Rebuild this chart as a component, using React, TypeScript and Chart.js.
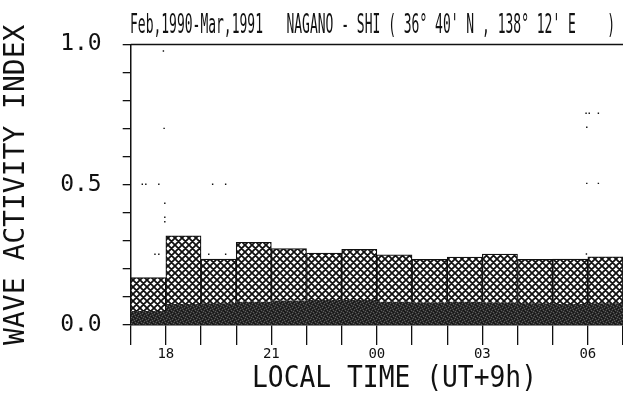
import React, { useEffect, useRef } from 'react';
import { Chart, registerables } from 'chart.js';

Chart.register(...registerables);

// ---- data ----
const hourStarts = [17, 18, 19, 20, 21, 22, 23, 24, 25, 26, 27, 28, 29, 30];
const totalIndex = [0.169, 0.318, 0.235, 0.295, 0.272, 0.256, 0.270, 0.250, 0.234, 0.242, 0.253, 0.234, 0.235, 0.243];
const darkIndex = [0.050, 0.075, 0.077, 0.083, 0.087, 0.089, 0.089, 0.083, 0.080, 0.083, 0.080, 0.077, 0.075, 0.077];

const dotX = [17.33, 17.43, 17.80, 19.33, 19.70, 17.93, 17.95, 17.97, 17.97, 17.97, 17.69, 17.80, 19.22, 19.70, 29.95, 30.04, 30.30, 29.97, 29.97, 30.30, 29.96];
const dotY = [0.502, 0.502, 0.502, 0.502, 0.502, 0.977, 0.701, 0.434, 0.384, 0.368, 0.252, 0.252, 0.252, 0.252, 0.755, 0.755, 0.755, 0.705, 0.505, 0.505, 0.253];

const xTickValues = [18, 21, 24, 27, 30];
const xTickLabels = ['18', '21', '00', '03', '06'];
const yTickValues = [0, 0.5, 1.0];
const yTickLabels = ['0.0', '0.5', '1.0'];

const titleText = "Feb,1990-Mar,1991   NAGANO - SHI ( 36° 40' N , 138° 12' E    )";
const xTitleText = 'LOCAL TIME (UT+9h)';
const yTitleText = 'WAVE ACTIVITY INDEX';

const FONT = '"DejaVu Sans Mono", monospace';
const INK = '#111';
const AREA_RIGHT = 623;

function makeHatch(): CanvasPattern | string {
  const P = 7;
  const c = document.createElement('canvas');
  c.width = P;
  c.height = P;
  const g = c.getContext('2d');
  if (!g) return '#888';
  g.fillStyle = '#fff';
  g.fillRect(0, 0, P, P);
  g.strokeStyle = '#111';
  g.lineWidth = 1.8;
  g.beginPath();
  for (const o of [-P, 0, P]) {
    g.moveTo(o - 1, -1);
    g.lineTo(o + P + 1, P + 1);
    g.moveTo(o - 1, P + 1);
    g.lineTo(o + P + 1, -1);
  }
  g.stroke();
  return g.createPattern(c, 'repeat') || '#888';
}

function makeDark(): CanvasPattern | string {
  const S = 6;
  const c = document.createElement('canvas');
  c.width = S;
  c.height = S;
  const g = c.getContext('2d');
  if (!g) return '#2c2c2c';
  g.fillStyle = '#2a2a2a';
  g.fillRect(0, 0, S, S);
  const light: [number, number][] = [[1, 0], [4, 1], [0, 3], [3, 4], [5, 5], [2, 2]];
  const dark: [number, number][] = [[3, 0], [0, 1], [5, 2], [2, 5], [4, 3], [1, 4]];
  g.fillStyle = '#5e5e5e';
  light.forEach(([x, y]) => g.fillRect(x, y, 1, 1));
  g.fillStyle = '#141414';
  dark.forEach(([x, y]) => g.fillRect(x, y, 1, 1));
  return g.createPattern(c, 'repeat') || '#2c2c2c';
}

function drawFitted(ctx: CanvasRenderingContext2D, text: string, size: number, left: number, baseline: number, width: number) {
  ctx.save();
  ctx.font = `${size}px ${FONT}`;
  ctx.fillStyle = INK;
  ctx.textAlign = 'left';
  ctx.textBaseline = 'alphabetic';
  const w = ctx.measureText(text).width;
  ctx.translate(left, baseline);
  ctx.scale(width / w, 1);
  ctx.fillText(text, 0, 0);
  ctx.restore();
}

const decorPlugin = {
  id: 'decor',
  afterDraw(chart: any) {
    const ctx: CanvasRenderingContext2D = chart.ctx;
    const a = chart.chartArea;
    ctx.save();
    ctx.strokeStyle = INK;
    ctx.lineWidth = 1.5;
    ctx.beginPath();
    ctx.moveTo(a.left, a.top);
    ctx.lineTo(a.right, a.top);
    ctx.stroke();
    ctx.restore();
    drawFitted(ctx, titleText, 27, 130, 33, 485);
    drawFitted(ctx, xTitleText, 30, 252, 386.5, 285);
  },
};

export default function App() {
  const ref = useRef<HTMLCanvasElement | null>(null);

  useEffect(() => {
    if (!ref.current) return;
    const hatch = makeHatch();
    const dark = makeDark();

    const chart = new Chart(ref.current, {
      type: 'bar',
      data: {
        datasets: [
          {
            type: 'scatter',
            data: dotX.map((x, i) => ({ x, y: dotY[i] })),
            pointStyle: 'rect',
            pointRadius: 1,
            backgroundColor: INK,
            borderWidth: 0,
          } as any,
          {
            data: hourStarts.map((h, i) => ({ x: h + 0.5, y: [darkIndex[i], totalIndex[i]] })),
            backgroundColor: hatch,
            borderColor: INK,
            borderWidth: 1.2,
            borderSkipped: 'start',
            barPercentage: 1,
            categoryPercentage: 1,
            grouped: false,
          } as any,
          {
            data: hourStarts.map((h, i) => ({ x: h + 0.5, y: [0, darkIndex[i]] })),
            backgroundColor: dark,
            borderWidth: 0,
            barPercentage: 1,
            categoryPercentage: 1,
            grouped: false,
          } as any,
        ],
      },
      options: {
        responsive: false,
        animation: false,
        devicePixelRatio: 1,
        layout: { autoPadding: false, padding: { top: 44.5, right: 0, left: 0, bottom: 0 } },
        plugins: { legend: { display: false }, tooltip: { enabled: false }, title: { display: false } },
        scales: {
          x: {
            type: 'linear',
            min: 17,
            max: 31,
            offset: false,
            grid: { offset: false, drawOnChartArea: false, drawTicks: true, tickLength: 20, color: INK, lineWidth: 1.3 },
            border: { display: true, color: INK, width: 1.5 },
            ticks: {
              stepSize: 1,
              autoSkip: false,
              maxRotation: 0,
              padding: 1,
              color: INK,
              font: { family: FONT, size: 14 },
              callback: (v: any) => {
                const k = xTickValues.findIndex((t) => Math.abs(t - Number(v)) < 1e-6);
                return k >= 0 ? xTickLabels[k] : '';
              },
            },
            afterFit: (s: any) => {
              s.height = 77;
              s.paddingLeft = 0;
              s.paddingRight = 0;
            },
          },
          y: {
            type: 'linear',
            min: 0,
            max: 1,
            grid: { drawOnChartArea: false, drawTicks: true, tickLength: 8, color: INK, lineWidth: 1.3 },
            border: { display: true, color: INK, width: 1.5 },
            ticks: {
              stepSize: 0.1,
              autoSkip: false,
              padding: 21,
              color: INK,
              font: { family: FONT, size: 23 },
              callback: (v: any) => {
                const k = yTickValues.findIndex((t) => Math.abs(t - Number(v)) < 1e-6);
                return k >= 0 ? yTickLabels[k] : '';
              },
            },
            title: {
              display: true,
              text: yTitleText,
              color: INK,
              font: { family: FONT, size: 28 },
              padding: { top: 0, bottom: 0 },
            },
            afterFit: (s: any) => {
              s.width = 130.7;
              s.paddingTop = 0;
              s.paddingBottom = 0;
            },
          },
        },
      } as any,
      plugins: [decorPlugin],
    });

    // make the plot area reach the right edge of the canvas, as in the reference
    const gap = AREA_RIGHT - chart.chartArea.right;
    if (Math.abs(gap) > 0.3) {
      (chart.options as any).layout.padding = { top: 44.5, right: -gap, left: 0, bottom: 0 };
      chart.update();
    }
    return () => chart.destroy();
  }, []);

  return (
    <div style={{ position: 'fixed', left: 0, top: 0, width: 623, height: 402, background: '#fff' }}>
      <canvas ref={ref} width={623} height={402} style={{ display: 'block', width: 623, height: 402 }} />
    </div>
  );
}
